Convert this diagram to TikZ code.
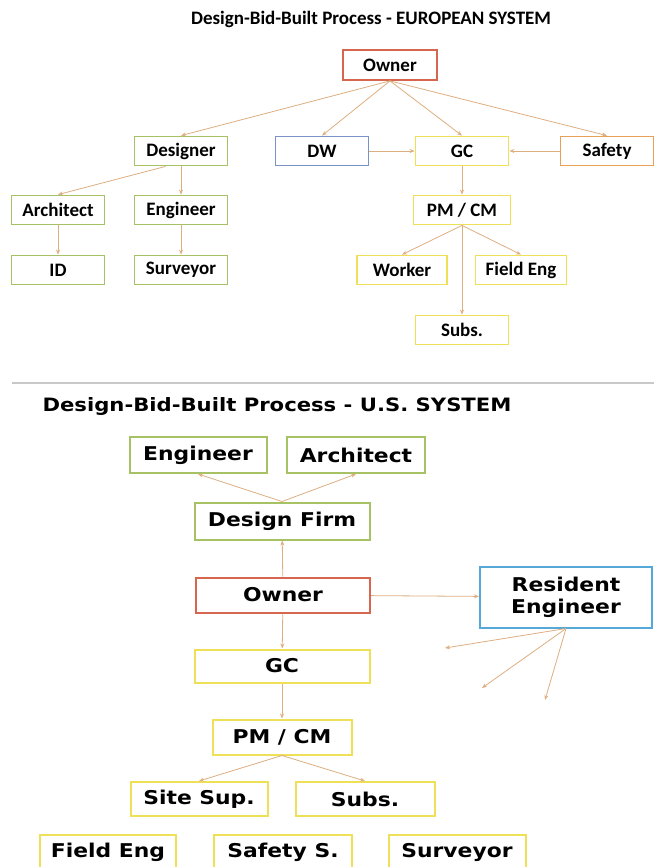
\documentclass[tikz,border=0pt]{standalone}
\usepackage{fontspec}
\setmainfont{Carlito}
\newfontfamily\usfont[FakeStretch=1.15]{DejaVu Sans}
\usetikzlibrary{arrows.meta}

\definecolor{ownred}{HTML}{D6664F}
\definecolor{desgreen}{HTML}{A6C264}
\definecolor{dwblue}{HTML}{7A92C6}
\definecolor{gcyellow}{HTML}{EEE158}
\definecolor{safeorange}{HTML}{E8A058}
\definecolor{reblue}{HTML}{56A8D8}
\definecolor{arrowtan}{HTML}{DDAE80}
\definecolor{sepgray}{HTML}{C8C8C8}

\begin{document}
\begin{tikzpicture}[x=1pt, y=-1pt]
		\tikzset{eu/.style={draw, line width=1.8pt, fill=white, minimum width=93pt, minimum height=29pt, inner sep=0pt, font=\bfseries\fontsize{19}{19}\selectfont}};
		\tikzset{us/.style={draw, line width=2pt, fill=white, minimum height=35pt, inner sep=0pt, align=center, font=\usfont\bfseries\fontsize{19}{22}\selectfont}};
		\tikzset{ar/.style={-{Stealth[length=5pt, width=4pt]}, draw=arrowtan, line width=0.8pt}};
		\useasboundingbox (0,0) rectangle (654,867);

		% european system
		\node[font=\bfseries\fontsize{19}{19}\selectfont] (t1) at (371,19) {Design-Bid-Built Process - EUROPEAN SYSTEM};
		\node[eu, draw=ownred, minimum width=94pt, minimum height=30pt] (own1) at (390,65) {Owner};
		\node[eu, draw=desgreen] (des) at (181,151) {Designer};
		\node[eu, draw=dwblue] (dw) at (322,151) {DW};
		\node[eu, draw=gcyellow] (gc1) at (462,151) {GC};
		\node[eu, draw=safeorange] (saf) at (607,151) {Safety};
		\node[eu, draw=desgreen] (arc1) at (58,210) {Architect};
		\node[eu, draw=desgreen] (eng1) at (181,210) {Engineer};
		\node[eu, draw=desgreen] (id) at (58,270) {ID};
		\node[eu, draw=desgreen] (sur1) at (181,270) {Surveyor};
		\node[eu, draw=gcyellow, minimum width=97pt] (pm1) at (462,210) {PM / CM};
		\node[eu, draw=gcyellow, minimum width=90pt] (wrk) at (402,270) {Worker};
		\node[eu, draw=gcyellow, minimum width=91pt] (fe1) at (521,270) {Field Eng};
		\node[eu, draw=gcyellow] (sub1) at (462,330) {Subs.};

		\draw[ar] (own1.south) -- (des.north);
		\draw[ar] (own1.south) -- (dw.north);
		\draw[ar] (own1.south) -- (gc1.north);
		\draw[ar] (own1.south) -- (saf.north);
		\draw[ar] (dw) -- (gc1);
		\draw[ar] (saf) -- (gc1);

		\draw[ar] (des.south west) ++(32,0) -- (arc1.north);
		\draw[ar] (des) -- (eng1);
		\draw[ar] (arc1) -- (id);
		\draw[ar] (eng1) -- (sur1);

		\draw[ar] (gc1) -- (pm1);
		\draw[ar] (pm1.south) -- (wrk.north);
		\draw[ar] (pm1.south) -- (fe1.north);
		\draw[ar] (pm1) -- (sub1);

		\draw[sepgray, line width=1.5pt] (12,383) -- (654,383);

		% u.s. system
		\node[anchor=west, font=\usfont\bfseries\fontsize{18.4}{18.4}\selectfont] (t2) at (39,406) {Design-Bid-Built Process - U.S. SYSTEM};
		\node[us, draw=desgreen, minimum width=137pt, minimum height=36pt] (eng2) at (198,455) {Engineer};
		\node[us, draw=desgreen, minimum width=138pt, minimum height=36pt] (arc2) at (356,455) {Architect};
		\node[us, draw=desgreen, minimum width=175pt, minimum height=37pt] (dfirm) at (282,521) {Design Firm};
		\node[us, draw=ownred, minimum width=174pt] (own2) at (283,595) {Owner};
		\node[us, draw=reblue, minimum width=172pt, minimum height=61pt] (res) at (566,597) {Resident\\Engineer};
		\node[us, draw=gcyellow, minimum width=175pt, minimum height=33pt] (gc2) at (282,666) {GC};
		\node[us, draw=gcyellow, minimum width=139pt] (pm2) at (282,737) {PM / CM};
		\node[us, draw=gcyellow, minimum width=137pt, minimum height=34pt] (site) at (199,799) {Site Sup.};
		\node[us, draw=gcyellow, minimum width=139pt, minimum height=34pt] (sub2) at (365,799) {Subs.};
		\node[us, draw=gcyellow, minimum width=136pt, minimum height=34pt] (fe2) at (108,852) {Field Eng};
		\node[us, draw=gcyellow, minimum width=138pt, minimum height=34pt] (ss) at (283,852) {Safety S.};
		\node[us, draw=gcyellow, minimum width=137pt, minimum height=34pt] (sur2) at (457,852) {Surveyor};

		\coordinate (re1) at (445,648);
		\coordinate (re2) at (482,688);
		\coordinate (re3) at (545,700);

		\draw[ar] (dfirm.north) -- (eng2.south);
		\draw[ar] (dfirm.north) -- (arc2.south);
		\draw[ar] (own2) -- (dfirm);
		\draw[ar] (own2) -- (res);
		\draw[ar] (own2) -- (gc2);
		\draw[ar] (gc2) -- (pm2);
		\draw[ar] (pm2.south) -- (site.north);
		\draw[ar] (pm2.south) -- (sub2.north);
		\draw[ar] (res.south) -- (re1);
		\draw[ar] (res.south) -- (re2);
		\draw[ar] (res.south) -- (re3);

	\end{tikzpicture}
\end{document}
